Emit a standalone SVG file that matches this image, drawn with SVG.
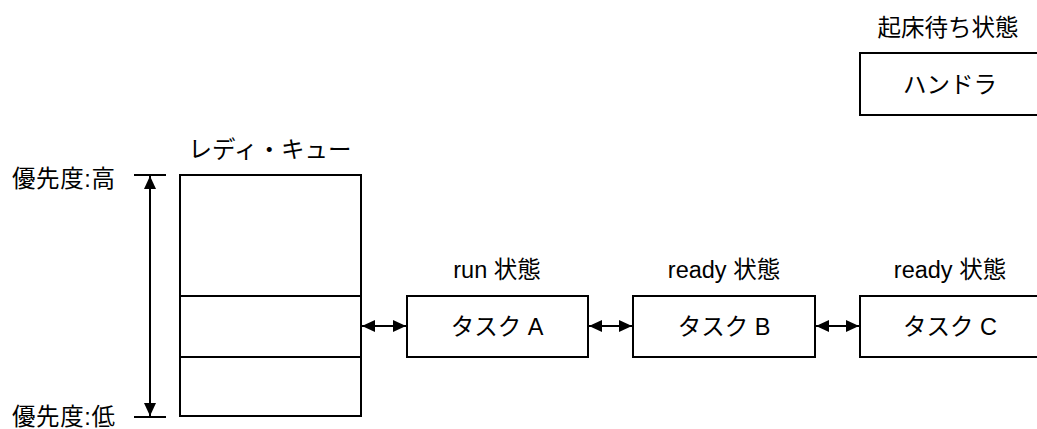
<svg xmlns="http://www.w3.org/2000/svg" width="1037" height="429" viewBox="0 0 1037 429">
<style>
text{font-family:"Liberation Sans","Noto Sans CJK JP",sans-serif;font-size:23.5px;fill:#000}
.c{text-anchor:middle}
.pr{letter-spacing:0.6px}
.box{fill:#fff;stroke:#000;stroke-width:2}
.ln{stroke:#000;stroke-width:2;fill:none}
</style>
<defs>
<marker id="ah" markerUnits="userSpaceOnUse" markerWidth="14" markerHeight="13" refX="13" refY="6" orient="auto-start-reverse">
<path d="M0,0 L13,6 L0,12 z" fill="#000"/>
</marker>
</defs>
<g id="priority">
<text class="pr" x="12" y="187">優先度:高</text>
<text class="pr" x="12" y="425">優先度:低</text>
<line class="ln" x1="134" y1="175" x2="166" y2="175"/>
<line class="ln" x1="134" y1="417" x2="166" y2="417"/>
</g>
<g id="queue">
<text class="c" x="270" y="158">レディ・キュー</text>
<rect class="box" x="180" y="175" width="181" height="241"/>
<line class="ln" x1="180" y1="296" x2="361" y2="296"/>
<line class="ln" x1="180" y1="357" x2="361" y2="357"/>
</g>
<g id="taskA">
<text class="c" x="497" y="278">run 状態</text>
<rect class="box" x="407" y="296" width="181" height="61"/>
<text class="c" x="497" y="335">タスク A</text>
</g>
<g id="taskB">
<text class="c" x="724" y="278">ready 状態</text>
<rect class="box" x="633" y="296" width="182" height="61"/>
<text class="c" x="724" y="335">タスク B</text>
</g>
<g id="taskC">
<text class="c" x="950" y="278">ready 状態</text>
<rect class="box" x="860" y="296" width="182" height="61"/>
<text class="c" x="950" y="335">タスク C</text>
</g>
<g id="handler">
<text class="c" x="948" y="36">起床待ち状態</text>
<rect class="box" x="860" y="53" width="182" height="62"/>
<text class="c" x="950" y="93">ハンドラ</text>
</g>
<g id="connectors">
<line class="ln" x1="150" y1="176" x2="150" y2="416" marker-start="url(#ah)" marker-end="url(#ah)"/>
<line class="ln" x1="362" y1="326" x2="406" y2="326" marker-start="url(#ah)" marker-end="url(#ah)"/>
<line class="ln" x1="589" y1="326" x2="632" y2="326" marker-start="url(#ah)" marker-end="url(#ah)"/>
<line class="ln" x1="816" y1="326" x2="859" y2="326" marker-start="url(#ah)" marker-end="url(#ah)"/>
</g>
</svg>
